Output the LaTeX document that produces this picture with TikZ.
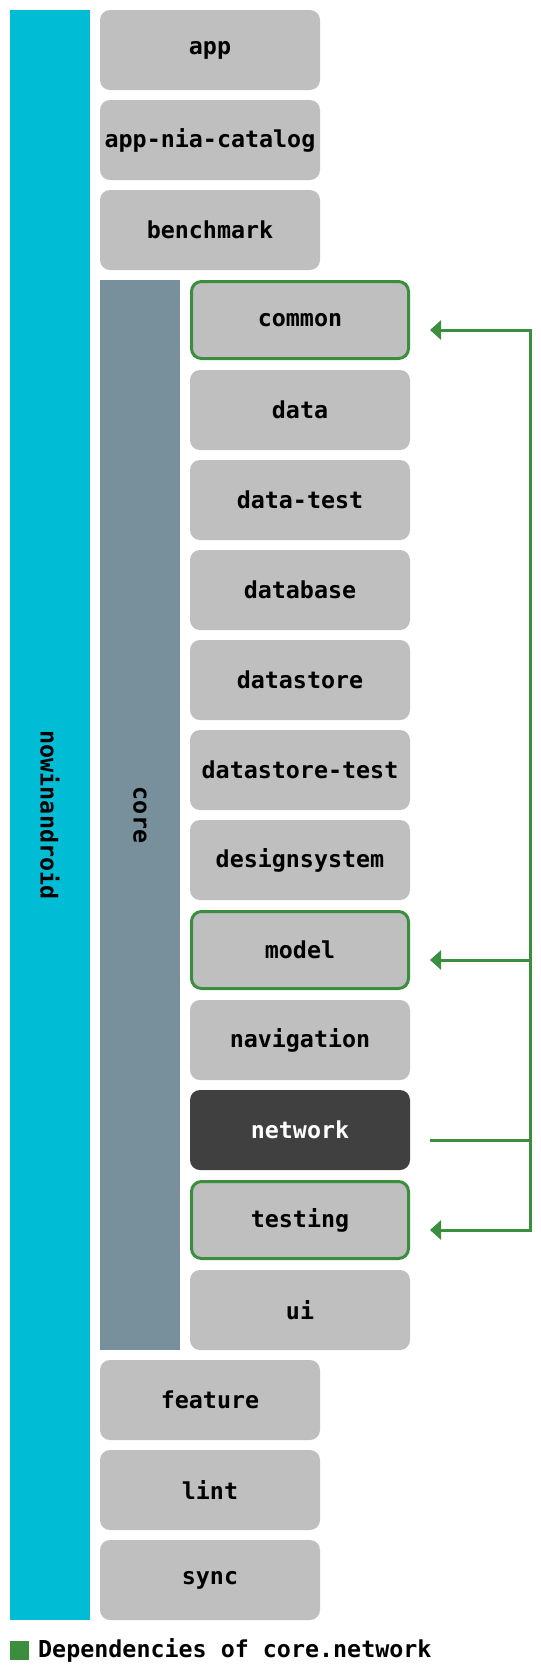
\documentclass[tikz,border=0pt]{standalone}
\usepackage{fontspec}
\setmainfont{DejaVu Sans Mono}
\usepackage{tikz}
\usetikzlibrary{arrows.meta, positioning}

\definecolor{niacyan}{HTML}{00BCD4}
\definecolor{coregrey}{HTML}{78909C}
\definecolor{modgrey}{HTML}{BFBFBF}
\definecolor{netdark}{HTML}{404040}
\definecolor{depgreen}{HTML}{3A8E3E}

\tikzset{
    module/.style={fill=modgrey, rounded corners=7.5pt, minimum width=165pt, minimum height=60pt,
        inner sep=0pt, font=\fontsize{17.5}{20}\selectfont\bfseries},
    dep/.style={module, draw=depgreen, line width=2.25pt, minimum width=162.75pt, minimum height=57.75pt},
    current/.style={module, fill=netdark, text=white},
    bar/.style={minimum width=60pt, inner sep=0pt, font=\fontsize{17.5}{20}\selectfont\bfseries},
    depline/.style={depgreen, line width=2.25pt},
    deparrow/.style={depline, -{Triangle[length=8.25pt, width=14.25pt]}}
}

\begin{document}
\begin{tikzpicture}[x=0.75pt, y=-0.75pt]
            \useasboundingbox (0,0) rectangle (540,1671);

            \node[bar, fill=niacyan, minimum height=1207.5pt] (nia) at (50,815) {};
            \node[rotate=-90, font=\fontsize{17.5}{20}\selectfont\bfseries] (nia label) at (nia.center) {nowinandroid};

            \node[module] (app) at (210,50) {app};
            \node[module] (catalog) at (210,140) {app-nia-catalog};
            \node[module] (benchmark) at (210,230) {benchmark};

            \node[bar, fill=coregrey, minimum height=802.5pt] (core) at (140,815) {};
            \node[rotate=-90, font=\fontsize{17.5}{20}\selectfont\bfseries] (core label) at (core.center) {core};

            \node[dep] (common) at (300,320) {common};
            \node[module] (data) at (300,410) {data};
            \node[module] (datatest) at (300,500) {data-test};
            \node[module] (database) at (300,590) {database};
            \node[module] (datastore) at (300,680) {datastore};
            \node[module] (datastoretest) at (300,770) {datastore-test};
            \node[module] (designsystem) at (300,860) {designsystem};
            \node[dep] (model) at (300,950) {model};
            \node[module] (navigation) at (300,1040) {navigation};
            \node[current] (network) at (300,1130) {network};
            \node[dep] (testing) at (300,1220) {testing};
            \node[module] (ui) at (300,1310) {ui};

            \node[module] (feature) at (210,1400) {feature};
            \node[module] (lint) at (210,1490) {lint};
            \node[module] (sync) at (210,1580) {sync};

            % dependency lines
            \coordinate (bus) at (530,0);
            \coordinate (common in) at ([xshift=15pt, yshift=-7.5pt]common.east);
            \coordinate (model in) at ([xshift=15pt, yshift=-7.5pt]model.east);
            \coordinate (testing in) at ([xshift=15pt, yshift=-7.5pt]testing.east);
            \coordinate (network out) at ([xshift=15pt, yshift=-7.5pt]network.east);

            \draw[depline] (network out) -- (network out -| bus);
            \draw[deparrow] (common in -| bus) |- (testing in);
            \draw[deparrow] (testing in -| bus) |- (common in);
            \draw[deparrow] (model in -| bus) -- (model in);

            % legend
            \node[fill=depgreen, minimum size=14.25pt, inner sep=0pt] (key) at (19.5,1650) {};
            \node[right=6.5pt of key, inner sep=0pt, font=\fontsize{17.5}{20}\selectfont\bfseries] (key label) {Dependencies of core.network};
\end{tikzpicture}
\end{document}
